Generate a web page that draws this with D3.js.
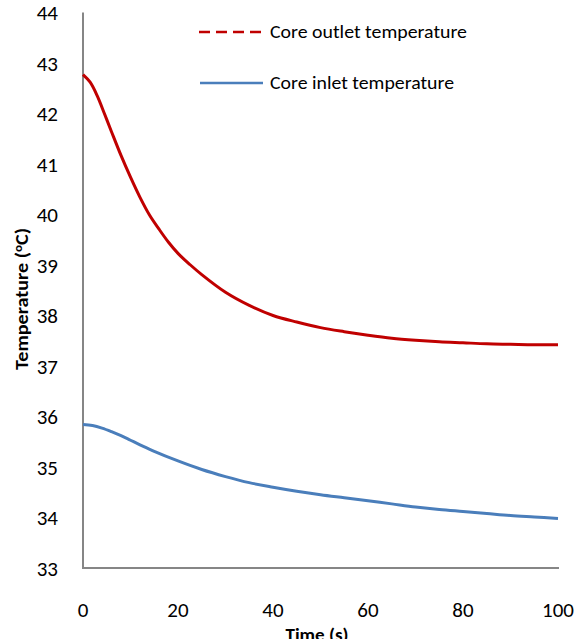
<!DOCTYPE html>
<html>
<head>
<meta charset="utf-8">
<script src="https://cdn.jsdelivr.net/npm/d3@7"></script>
<style>
  body { margin: 0; background: #fff; }
  svg { display: block; }
  text { font-family: Carlito, Calibri, Lato, sans-serif; fill: #000; }
</style>
</head>
<body>
<svg id="chart" width="584" height="639"></svg>
<script>
// Data
const outletTime = [0, 1.5, 3, 4.5, 6, 8, 10, 12, 14, 16, 18, 20, 22.5, 25, 30, 35, 40, 45, 50, 55, 60, 65, 70, 75, 80, 85, 90, 95, 100];
const outletTemp = [42.77, 42.62, 42.35, 42.00, 41.64, 41.17, 40.74, 40.34, 39.99, 39.71, 39.45, 39.23, 39.01, 38.81, 38.46, 38.20, 38.00, 37.87, 37.76, 37.68, 37.61, 37.55, 37.51, 37.48, 37.46, 37.44, 37.43, 37.42, 37.42];

const inletTime = [0, 2, 4, 6, 8, 10, 12, 15, 20, 25, 30, 35, 40, 45, 50, 55, 60, 65, 70, 75, 80, 85, 90, 95, 100];
const inletTemp = [35.84, 35.82, 35.77, 35.70, 35.62, 35.53, 35.44, 35.31, 35.12, 34.95, 34.81, 34.69, 34.60, 34.52, 34.45, 34.39, 34.33, 34.27, 34.21, 34.16, 34.12, 34.08, 34.04, 34.01, 33.98];

const xTicks = [0, 20, 40, 60, 80, 100];
const yTicks = [33, 34, 35, 36, 37, 38, 39, 40, 41, 42, 43, 44];

const seriesNames = ["Core outlet temperature", "Core inlet temperature"];

const svg = d3.select('#chart');

const x = d3.scaleLinear().domain([0, 100]).range([83, 558]);
const y = d3.scaleLinear().domain([33, 44]).range([568, 12.5]);

// Axes lines
svg.append('line')
  .attr('x1', x(0)).attr('x2', x(0))
  .attr('y1', y(44)).attr('y2', y(33))
  .attr('stroke', '#868686').attr('stroke-width', 2);

svg.append('line')
  .attr('x1', x(0) - 1).attr('x2', x(100) + 1)
  .attr('y1', y(33)).attr('y2', y(33))
  .attr('stroke', '#868686').attr('stroke-width', 2);

// Y tick labels
svg.append('g').selectAll('text')
  .data(yTicks)
  .join('text')
  .attr('x', 58)
  .attr('y', d => y(d))
  .attr('dy', '0.36em')
  .attr('text-anchor', 'end')
  .attr('font-size', '21px')
  .text(d => d);

// X tick labels (placed well below the axis, as in the reference)
svg.append('g').selectAll('text')
  .data(xTicks)
  .join('text')
  .attr('x', d => x(d))
  .attr('y', 617)
  .attr('text-anchor', 'middle')
  .attr('font-size', '21px')
  .text(d => d);

// Axis titles
const yTitle = svg.append('text')
  .attr('transform', 'translate(28, 299) rotate(-90)')
  .attr('text-anchor', 'middle')
  .attr('font-size', '17px')
  .attr('font-weight', 'bold')
  .attr('textLength', 142)
  .attr('lengthAdjust', 'spacingAndGlyphs');
yTitle.append('tspan').text('Temperature (');
yTitle.append('tspan').attr('baseline-shift', 'super').attr('font-size', '11px').text('o');
yTitle.append('tspan').text('C)');

// x title sits partly below the picture edge, as in the reference
svg.append('text')
  .attr('x', 317)
  .attr('y', 641)
  .attr('text-anchor', 'middle')
  .attr('font-size', '17px')
  .attr('font-weight', 'bold')
  .attr('textLength', 63)
  .attr('lengthAdjust', 'spacingAndGlyphs')
  .text('Time (s)');

// Lines
const line = d3.line()
  .x(d => x(d[0]))
  .y(d => y(d[1]))
  .curve(d3.curveCatmullRom);

svg.append('path')
  .datum(d3.zip(inletTime, inletTemp))
  .attr('fill', 'none')
  .attr('stroke', '#4A7EBB')
  .attr('stroke-width', 3)
  .attr('d', line);

svg.append('path')
  .datum(d3.zip(outletTime, outletTemp))
  .attr('fill', 'none')
  .attr('stroke', '#C00000')
  .attr('stroke-width', 3)
  .attr('d', line);

// Legend
const legend = svg.append('g');
legend.append('line')
  .attr('x1', 199).attr('x2', 261)
  .attr('y1', 32).attr('y2', 32)
  .attr('stroke', '#C00000').attr('stroke-width', 2.5)
  .attr('stroke-dasharray', '11,6');
legend.append('text')
  .attr('x', 270).attr('y', 32).attr('dy', '0.35em')
  .attr('font-size', '18px')
  .attr('textLength', 197)
  .attr('lengthAdjust', 'spacingAndGlyphs')
  .text(seriesNames[0]);

legend.append('line')
  .attr('x1', 200).attr('x2', 263)
  .attr('y1', 83).attr('y2', 83)
  .attr('stroke', '#4A7EBB').attr('stroke-width', 2.5);
legend.append('text')
  .attr('x', 270).attr('y', 83).attr('dy', '0.35em')
  .attr('font-size', '18px')
  .attr('textLength', 184)
  .attr('lengthAdjust', 'spacingAndGlyphs')
  .text(seriesNames[1]);
</script>
</body>
</html>
